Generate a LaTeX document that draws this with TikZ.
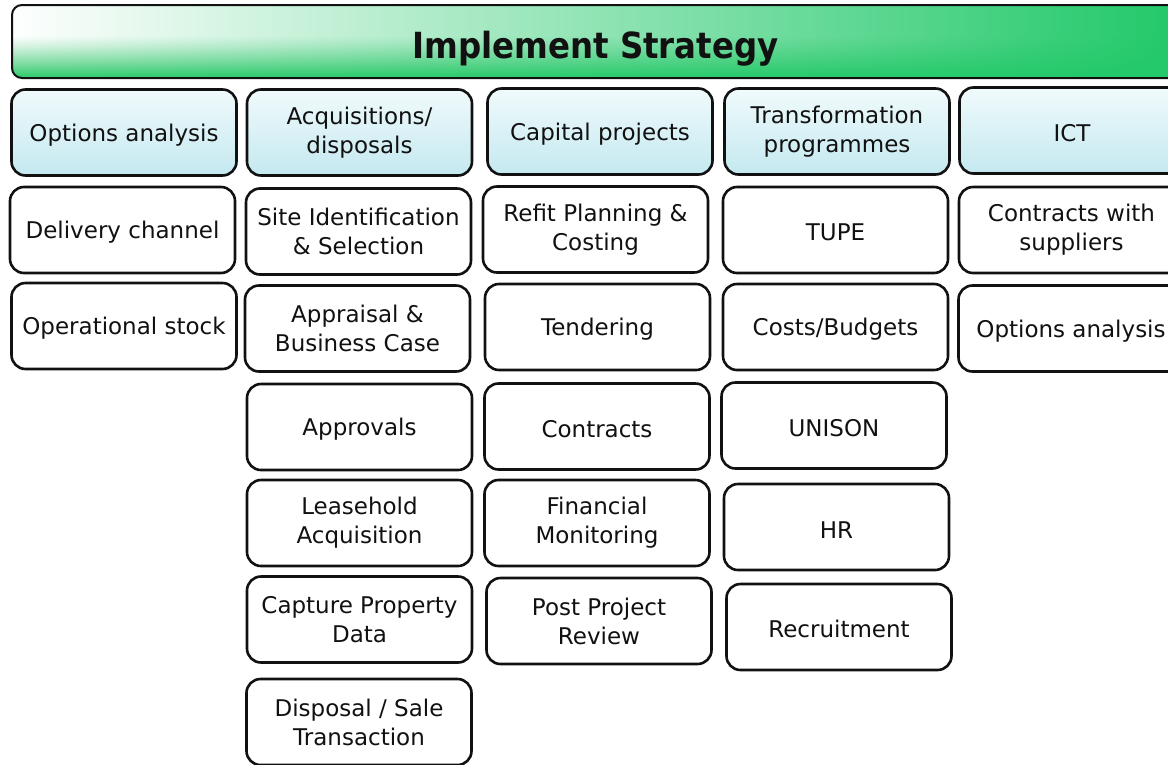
\documentclass[tikz,border=0pt]{standalone}
\usepackage{fontspec}
\setmainfont{DejaVu Sans}
\newfontfamily\titlefont{DejaVu Sans Condensed}
\usetikzlibrary{fadings}

\definecolor{barGreen}{HTML}{22C96A}
\definecolor{barLow}{HTML}{3ACE75}
\definecolor{barMid}{HTML}{8FE0AD}
\definecolor{barPale}{HTML}{D8F3E2}
\definecolor{headTop}{HTML}{F0FAFC}
\definecolor{headBot}{HTML}{C4E9F0}
\definecolor{ink}{HTML}{111111}

% vertical wash of the title bar: green along the lower edge, white above
\pgfdeclareverticalshading{titlewash}{100bp}{%
  color(0bp)=(barLow); color(27bp)=(barLow); color(37bp)=(barMid);
  color(47bp)=(barPale); color(54bp)=(white); color(100bp)=(white)}
% green overlay grows in strength from left to right
\tikzfading[name=growright, left color=transparent!100,
  middle color=transparent!75, right color=transparent!0]

\tikzset{
  titlebar/.style={draw=ink, line width=2pt, rounded corners=10pt,
    preaction={shade, shading=titlewash},
    preaction={fill=barGreen, path fading=growright},
    minimum width=1167pt, minimum height=73pt, inner sep=0pt,
    text height=33pt, text depth=0pt,
    font=\titlefont\fontsize{36}{40}\selectfont\bfseries, text=ink},
  cell/.style={draw=ink, line width=2.6pt, rounded corners=14pt, fill=white,
    minimum width=225pt, minimum height=86pt, inner sep=0pt, align=center,
    font=\fontsize{23}{29}\selectfont, text=ink,
    execute at begin node={\rule{0pt}{22pt}}},
  headcell/.style={cell, top color=headTop, bottom color=headBot},
}

\begin{document}
\begin{tikzpicture}[x=1pt, y=-1pt]
\useasboundingbox (0,0) rectangle (1168,764);

% title bar
\node[titlebar] (title) at (595.5,41.5) {Implement Strategy};

% column headings
\node[headcell] (hOptions)   at (124,132.5)  {Options analysis};
\node[headcell] (hAcq)       at (359.5,132.5) {Acquisitions/\\disposals};
\node[headcell] (hCapital)   at (600,131.5)  {Capital projects};
\node[headcell] (hTransform) at (837,131.5)  {Transformation\\programmes};
\node[headcell] (hICT)       at (1072,130.5) {ICT};

% options analysis
\node[cell] (delivery)    at (122.5,230) {Delivery channel};
\node[cell] (operational) at (124,326)   {Operational stock};

% acquisitions / disposals
\node[cell] (site)      at (358.5,231.5) {Site Identification\\\& Selection};
\node[cell] (appraisal) at (357.5,328.5) {Appraisal \&\\Business Case};
\node[cell] (approvals) at (359.5,427)   {Approvals};
\node[cell] (leasehold) at (359.5,523)   {Leasehold\\Acquisition};
\node[cell] (capture)   at (359.5,619.5) {Capture Property\\Data};
\node[cell] (disposal)  at (359,722)     {Disposal / Sale\\Transaction};

% capital projects
\node[cell] (refit)     at (595.5,229.5) {Refit Planning \&\\Costing};
\node[cell] (tender)    at (597.5,327)   {Tendering};
\node[cell] (contracts) at (597,426.5)   {Contracts};
\node[cell] (financial) at (597,523)     {Financial\\Monitoring};
\node[cell] (review)    at (599,621)     {Post Project\\Review};

% transformation programmes
\node[cell] (tupe)    at (835.5,230) {TUPE};
\node[cell] (costs)   at (835.5,327) {Costs/Budgets};
\node[cell] (unison)  at (834,425.5) {UNISON};
\node[cell] (hr)      at (836.5,527) {HR};
\node[cell] (recruit) at (839,627)   {Recruitment};

% ICT
\node[cell] (suppliers) at (1071.5,230) {Contracts with\\suppliers};
\node[cell] (ictOptions) at (1071,328.5) {Options analysis};
\end{tikzpicture}
\end{document}
